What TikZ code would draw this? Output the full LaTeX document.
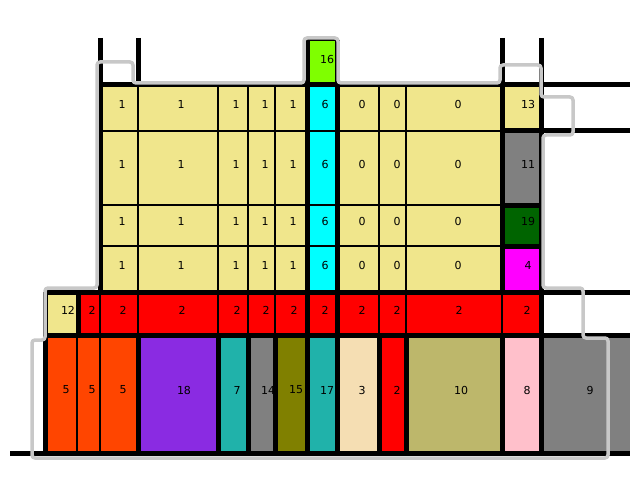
\documentclass[tikz,border=0pt]{standalone}
\usepackage{fontspec}
\setmainfont{DejaVu Sans}
\usepackage{xcolor}
\definecolor{khaki}{HTML}{F0E68C}
\definecolor{aqua}{HTML}{00FFFF}
\definecolor{chart}{HTML}{7FFF00}
\definecolor{grey}{HTML}{808080}
\definecolor{dgreen}{HTML}{006400}
\definecolor{fuchsia}{HTML}{FF00FF}
\definecolor{pure}{HTML}{FF0000}
\definecolor{ored}{HTML}{FF4500}
\definecolor{bviolet}{HTML}{8A2BE2}
\definecolor{lsea}{HTML}{20B2AA}
\definecolor{olivec}{HTML}{808000}
\definecolor{wheatc}{HTML}{F5DEB3}
\definecolor{dkhaki}{HTML}{BDB76B}
\definecolor{pinkc}{HTML}{FFC0CB}
\definecolor{trace}{HTML}{C8C8C8}
\usepackage{tikz}
\tikzset{
  cell/.style={draw=black,line width=1.4pt},
  wall/.style={draw=black,line width=5pt},
  outline/.style={draw=trace,line width=3.5pt,rounded corners=3pt,line join=round},
  lbl/.style={font=\fontsize{11}{13}\selectfont,text=black,inner sep=0pt},
}

\begin{document}
\begin{tikzpicture}[x=1pt,y=-1pt]
  \useasboundingbox[fill=white] (0,0) rectangle (640,500);
  % yellow block
  \foreach \ya/\yb in {85/131,131/205,205/246,246/292} {
    \foreach \xa/\xb/\c in {100/138/khaki,138/218/khaki,218/248/khaki,248/275/khaki,275/307/khaki,
      307/337/aqua,337/379/khaki,379/406/khaki,406/502/khaki}
      \filldraw[cell,fill=\c] (\xa,\ya) rectangle (\xb,\yb);
  }
  \foreach \ya/\yb/\c in {85/131/khaki,131/205/grey,205/246/dgreen,246/292/fuchsia}
    \filldraw[cell,fill=\c] (502,\ya) rectangle (541,\yb);
  \filldraw[cell,fill=chart] (307,40) rectangle (337,85);
  % red row
  \filldraw[cell,fill=khaki] (45,292) rectangle (78,335);
  \foreach \xa/\xb in {78/100,100/138,138/218,218/248,248/275,275/307,307/337,337/379,379/406,406/502,502/541}
    \filldraw[cell,fill=pure] (\xa,292) rectangle (\xb,335);
  % bottom row
  \foreach \xa/\xb/\c in {45/77/ored,77/100/ored,100/138/ored,138/218/bviolet,218/248/lsea,248/275/grey,
    275/307/olivec,307/337/lsea,337/379/wheatc,379/406/pure,406/502/dkhaki,502/541/pinkc}
    \filldraw[cell,fill=\c] (\xa,335) rectangle (\xb,453);
  \fill[grey] (541,335) rectangle (630,453);
  % walls
  \foreach \x/\ya/\yb in {100/38/292,138/38/85,307/40/453,337/40/453,502/38/292,502/335/453,541/38/453,
    45/292/453,78/292/335,138/335/453,218/335/453,248/335/453,275/335/453,379/335/453,406/335/453}
    \draw[wall] (\x,\ya) -- (\x,\yb);
  \foreach \y/\xa/\xb in {85/100/630,131/502/630,205/502/541,246/502/541,292/45/630,335/45/630,453/10/630}
    \draw[wall] (\xa,\y) -- (\xb,\y);
  \draw[outline] (32,458) -- (32,340) -- (45,340) -- (45,288) -- (97,288) -- (97,62) -- (133,62)
    -- (133,83) -- (304,83) -- (304,38) -- (338,38) -- (338,83) -- (500,83) -- (500,65) -- (541,65)
    -- (541,97) -- (573,97) -- (573,135) -- (543,135) -- (543,288) -- (583,288) -- (583,338)
    -- (608,338) -- (608,458) -- cycle;
  % labels
  \foreach \y/\r in {104/13,164/11,221/19,265/4} {
    \foreach \x/\t [count=\n] in {122/1,181/1,236/1,265/1,293/1,325/6,362/0,397/0,458/0}
      \node[lbl] (y\y n\n) at (\x,\y) {\t};
    \node[lbl] (r\r) at (528,\y) {\r};
  }
  \node[lbl] (g16) at (327,59) {16};
  \foreach \x/\t [count=\n] in {68/12,92/2,123/2,182/2,237/2,266/2,294/2,325/2,362/2,397/2,459/2,527/2}
    \node[lbl] (m\n) at (\x,310) {\t};
  \foreach \x/\t [count=\n] in {66/5,92/5,123/5,184/18,237/7,268/14,296/15,327/17,362/3,397/2,461/10,527/8,590/9}
    \node[lbl] (b\n) at (\x,390) {\t};
\end{tikzpicture}
\end{document}
